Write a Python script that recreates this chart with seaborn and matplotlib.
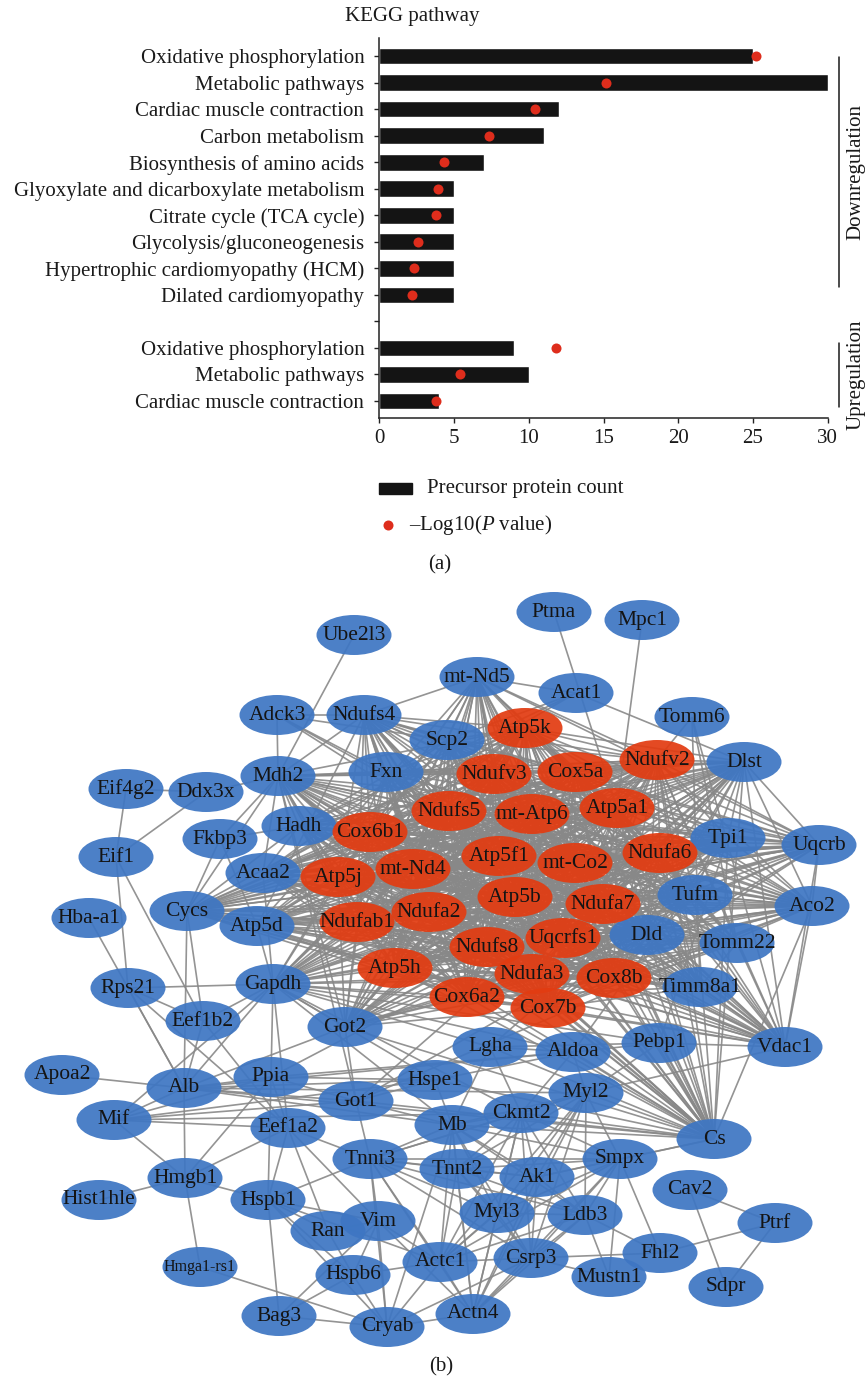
import matplotlib
matplotlib.use("Agg")
import matplotlib.pyplot as plt
import seaborn as sns
import pandas as pd
from itertools import combinations
from matplotlib.patches import Ellipse, Rectangle
from matplotlib.collections import LineCollection
from matplotlib.lines import Line2D

sns.set_theme(style="white")
plt.rcParams["font.family"] = ["Liberation Serif", "DejaVu Serif"]
plt.rcParams["mathtext.fontset"] = "custom"
plt.rcParams["mathtext.rm"] = "Liberation Serif"
plt.rcParams["mathtext.it"] = "Liberation Serif:italic"

# ---------------- (a) KEGG pathway enrichment ----------------
down_pathways = [
    "Oxidative phosphorylation", "Metabolic pathways", "Cardiac muscle contraction",
    "Carbon metabolism", "Biosynthesis of amino acids",
    "Glyoxylate and dicarboxylate metabolism", "Citrate cycle (TCA cycle)",
    "Glycolysis/gluconeogenesis", "Hypertrophic cardiomyopathy (HCM)",
    "Dilated cardiomyopathy",
]
down_counts = [25, 30, 12, 11, 7, 5, 5, 5, 5, 5]
down_logp = [25.2, 15.2, 10.45, 7.35, 4.35, 3.95, 3.8, 2.6, 2.3, 2.2]

up_pathways = ["Oxidative phosphorylation", "Metabolic pathways", "Cardiac muscle contraction"]
up_counts = [9, 10, 4]
up_logp = [11.8, 5.4, 3.8]

x_ticks = [0, 5, 10, 15, 20, 25, 30]

# ---------------- (b) protein interaction network ----------------
down_proteins = {
    "Atp5k": (525, 728), "Ndufv3": (494, 774), "Cox5a": (575, 772), "Ndufv2": (657, 760),
    "Ndufs5": (449, 811), "mt-Atp6": (532, 814), "Atp5a1": (617, 808), "Cox6b1": (370, 832),
    "mt-Nd4": (413, 869), "Atp5f1": (499, 856), "mt-Co2": (575, 863), "Ndufa6": (660, 853),
    "Atp5j": (338, 877), "Atp5b": (515, 897), "Ndufa7": (603, 904), "Ndufab1": (357, 922),
    "Ndufa2": (429, 912), "Ndufs8": (487, 947), "Uqcrfs1": (563, 938), "Atp5h": (395, 968),
    "Ndufa3": (532, 974), "Cox8b": (614, 978), "Cox6a2": (467, 997), "Cox7b": (548, 1008),
}
other_proteins = {
    "Ptma": (554, 612), "Mpc1": (642, 620), "Ube2l3": (354, 635), "mt-Nd5": (477, 677),
    "Acat1": (576, 693), "Tomm6": (692, 717), "Adck3": (277, 715), "Ndufs4": (364, 715),
    "Scp2": (447, 740), "Fxn": (386, 772), "Mdh2": (278, 776), "Dlst": (744, 762),
    "Eif4g2": (126, 789), "Ddx3x": (206, 792), "Fkbp3": (220, 839), "Hadh": (299, 826),
    "Tpi1": (728, 838), "Uqcrb": (819, 845), "Eif1": (116, 857), "Acaa2": (263, 873),
    "Cycs": (187, 911), "Atp5d": (257, 926), "Hba-a1": (89, 918), "Tufm": (695, 895),
    "Aco2": (812, 906), "Dld": (647, 935), "Tomm22": (737, 943), "Rps21": (128, 988),
    "Gapdh": (273, 984), "Timm8a1": (700, 987), "Eef1b2": (203, 1021), "Got2": (345, 1027),
    "Lgha": (490, 1047), "Aldoa": (573, 1052), "Pebp1": (659, 1043), "Vdac1": (785, 1047),
    "Apoa2": (62, 1075), "Alb": (184, 1088), "Ppia": (271, 1077), "Hspe1": (435, 1080),
    "Got1": (356, 1101), "Myl2": (586, 1093), "Mif": (114, 1120), "Eef1a2": (288, 1128),
    "Mb": (452, 1125), "Ckmt2": (521, 1113), "Cs": (714, 1139), "Tnni3": (370, 1159),
    "Tnnt2": (457, 1169), "Ak1": (537, 1177), "Smpx": (620, 1159), "Hmgb1": (185, 1178),
    "Hist1hle": (99, 1200), "Hspb1": (268, 1200), "Cav2": (690, 1190), "Ran": (328, 1231),
    "Vim": (378, 1221), "Myl3": (497, 1213), "Ldb3": (585, 1215), "Ptrf": (775, 1223),
    "Hmga1-rs1": (200, 1267), "Fhl2": (660, 1253), "Hspb6": (353, 1275), "Actc1": (440, 1262),
    "Csrp3": (531, 1258), "Mustn1": (609, 1277), "Sdpr": (726, 1287), "Bag3": (279, 1316),
    "Cryab": (387, 1327), "Actn4": (473, 1314),
}

# groups whose members are all mutually linked
complexes = [
    list(down_proteins) + ["Ndufs4", "mt-Nd5", "Uqcrb", "Atp5d"],
    ["Mdh2", "Dlst", "Aco2", "Cs", "Dld", "Got2", "Got1"],
    ["Gapdh", "Tpi1", "Aldoa", "Lgha", "Pebp1"],
    ["Hadh", "Acaa2", "Acat1", "Scp2"],
    ["Tomm6", "Tomm22", "Timm8a1", "Vdac1"],
    ["Tnni3", "Tnnt2", "Myl2", "Myl3", "Actc1", "Actn4", "Csrp3", "Ldb3",
     "Smpx", "Mb", "Ckmt2", "Ak1"],
    ["Hspb1", "Hspb6", "Cryab", "Bag3", "Vim"],
    ["Cav2", "Ptrf", "Sdpr"],
]
# proteins linked to every down-regulated respiratory-chain subunit
chain_partners = ["Scp2", "Fxn", "Mdh2", "Hadh", "Acaa2", "Cycs", "Dlst", "Tpi1",
                  "Tufm", "Dld", "Tomm22", "Aco2", "Vdac1", "Cs", "Gapdh", "Got2",
                  "Timm8a1"]
extra_links = [
    ("Ube2l3", "Mdh2"), ("Adck3", "Ndufs4"), ("Adck3", "Mdh2"), ("Adck3", "Fxn"),
    ("Adck3", "Scp2"), ("Adck3", "Atp5f1"), ("Adck3", "Ndufs5"),
    ("Eif4g2", "Ddx3x"), ("Eif4g2", "Eif1"), ("Ddx3x", "Mdh2"), ("Ddx3x", "Eif1"),
    ("Eif1", "Rps21"), ("Eif1", "Eef1b2"), ("Hba-a1", "Alb"),
    ("Fkbp3", "Cycs"), ("Fkbp3", "Hadh"), ("Fkbp3", "Mdh2"), ("Fkbp3", "Atp5d"),
    ("Ptma", "Atp5a1"), ("Mpc1", "Atp5a1"), ("Acat1", "Dlst"), ("Tomm6", "Ndufv2"),
    ("Ndufs4", "Mdh2"), ("Ndufs4", "Fxn"), ("Ndufs4", "Scp2"), ("mt-Nd5", "Scp2"),
    ("mt-Nd5", "Acat1"), ("Mdh2", "Hadh"), ("Mdh2", "Acaa2"), ("Mdh2", "Cycs"),
    ("Cycs", "Atp5d"), ("Cycs", "Alb"), ("Cycs", "Eef1b2"), ("Cycs", "Hadh"),
    ("Rps21", "Gapdh"), ("Rps21", "Alb"), ("Rps21", "Eef1b2"), ("Rps21", "Eef1a2"),
    ("Eef1b2", "Eef1a2"), ("Eef1b2", "Gapdh"), ("Eef1b2", "Alb"), ("Apoa2", "Alb"),
    ("Alb", "Mif"), ("Alb", "Hmgb1"), ("Alb", "Ppia"), ("Alb", "Got1"), ("Alb", "Gapdh"),
    ("Alb", "Cs"), ("Alb", "Hspe1"), ("Alb", "Got2"), ("Alb", "Mb"), ("Alb", "Aldoa"),
    ("Alb", "Myl2"), ("Mif", "Hmgb1"), ("Mif", "Ppia"), ("Mif", "Got1"), ("Mif", "Gapdh"),
    ("Mif", "Hspe1"), ("Mif", "Eef1a2"), ("Mif", "Ckmt2"),
    ("Hmgb1", "Hist1hle"), ("Hmgb1", "Hspb1"), ("Hmgb1", "Hmga1-rs1"), ("Hmgb1", "Ppia"),
    ("Hmgb1", "Eef1a2"), ("Hmga1-rs1", "Cryab"),
    ("Ppia", "Gapdh"), ("Ppia", "Hspe1"), ("Ppia", "Got1"), ("Ppia", "Eef1a2"),
    ("Ppia", "Hspb1"), ("Ppia", "Aldoa"), ("Ppia", "Tpi1"),
    ("Eef1a2", "Hspb1"), ("Eef1a2", "Vim"), ("Eef1a2", "Ran"), ("Eef1a2", "Gapdh"),
    ("Eef1a2", "Tnni3"), ("Ran", "Hspb1"), ("Ran", "Vim"), ("Ran", "Hspb6"),
    ("Vim", "Actc1"), ("Vim", "Actn4"), ("Vim", "Tnni3"), ("Hspb1", "Tnni3"),
    ("Hspb1", "Actc1"), ("Cryab", "Actc1"), ("Cryab", "Actn4"), ("Cryab", "Csrp3"),
    ("Cryab", "Tnni3"), ("Cryab", "Mb"), ("Hspb6", "Actc1"),
    ("Hspe1", "Gapdh"), ("Hspe1", "Got1"), ("Hspe1", "Mb"), ("Hspe1", "Cs"),
    ("Hspe1", "Aldoa"), ("Got1", "Mb"), ("Got1", "Tnni3"),
    ("Gapdh", "Got2"), ("Gapdh", "Ckmt2"), ("Gapdh", "Mb"), ("Gapdh", "Atp5d"),
    ("Gapdh", "Acaa2"), ("Ckmt2", "Cs"), ("Mb", "Cs"), ("Myl2", "Cs"), ("Ak1", "Cs"),
    ("Ckmt2", "Aldoa"), ("Ckmt2", "Lgha"), ("Mb", "Lgha"),
    ("Cs", "Pebp1"), ("Cs", "Aldoa"), ("Cs", "Lgha"), ("Cs", "Tpi1"), ("Cs", "Tufm"),
    ("Vdac1", "Aco2"), ("Vdac1", "Pebp1"), ("Vdac1", "Myl2"), ("Vdac1", "Uqcrb"),
    ("Vdac1", "Dld"), ("Vdac1", "Dlst"), ("Dlst", "Tpi1"), ("Dlst", "Uqcrb"),
    ("Dlst", "Tufm"), ("Tpi1", "Uqcrb"), ("Aco2", "Uqcrb"), ("Aco2", "Tufm"),
    ("Aco2", "Tpi1"), ("Pebp1", "Myl2"), ("Myl2", "Aldoa"),
    ("Smpx", "Mustn1"), ("Fhl2", "Ldb3"), ("Fhl2", "Csrp3"), ("Fhl2", "Ptrf"),
    ("Mustn1", "Csrp3"), ("Mustn1", "Ldb3"), ("Fhl2", "Smpx"), ("Smpx", "Cs"),
]

RED = "#e23c12"
BLUE = "#3e76c3"
BAR = "#141414"
DOT = "#de2d1c"
INK = "#1a1a1a"

W, H = 867, 1382
fig = plt.figure(figsize=(W / 100, H / 100), dpi=100)

# pixel-coordinate canvas for annotations and the network
canvas = fig.add_axes([0, 0, 1, 1])
canvas.set_xlim(0, W)
canvas.set_ylim(H, 0)
canvas.axis("off")

# bar chart axes
left_px, right_px, top_px, bottom_px = 379.3, 827.7, 37.7, 418.0
ax = fig.add_axes([left_px / W, 1 - bottom_px / H,
                   (right_px - left_px) / W, (bottom_px - top_px) / H])

labels = down_pathways + [""] + up_pathways
pos = list(range(len(down_pathways))) + list(range(len(down_pathways) + 1, len(labels)))
df = pd.DataFrame({
    "pathway": down_pathways + up_pathways,
    "count": down_counts + up_counts,
    "logp": down_logp + up_logp,
    "pos": pos,
})
sns.barplot(data=df, x="count", y="pos", orient="h", native_scale=True,
            width=0.63, color=BAR, saturation=1, errorbar=None, ax=ax)
sns.scatterplot(data=df, x="logp", y="pos", color=DOT, s=52, linewidth=0,
                ax=ax, zorder=4, legend=False, clip_on=False)

ax.set_xlim(0, 30)
ax.set_ylim(len(labels) - 1 + 0.64, -0.69)
ax.set_yticks(range(len(labels)))
ax.set_yticklabels(labels, fontsize=15, color=INK)
ax.set_xticks(x_ticks)
ax.set_xticklabels([str(t) for t in x_ticks], fontsize=15, color=INK)
ax.set_xlabel("")
ax.set_ylabel("")
ax.tick_params(left=True, bottom=True, direction="out", length=3.6, width=1,
               color="#222222")
ax.tick_params(axis="y", pad=7.2)
ax.tick_params(axis="x", pad=4.5)
for side in ("top", "right"):
    ax.spines[side].set_visible(False)
for side in ("left", "bottom"):
    ax.spines[side].set_color("#222222")
    ax.spines[side].set_linewidth(1.1)
ax.set_facecolor("none")

canvas.text(412, 16, "KEGG pathway", fontsize=15, ha="center", va="center", color=INK)

# regulation brackets
canvas.add_line(Line2D([839, 839], [57, 287], color=INK, lw=1.1))
canvas.add_line(Line2D([839, 839], [343, 407], color=INK, lw=1.1))
canvas.text(856, 172, "Downregulation", rotation=90, fontsize=15,
            ha="center", va="center", color=INK)
canvas.text(856, 375, "Upregulation", rotation=90, fontsize=15,
            ha="center", va="center", color=INK)

# legend
canvas.add_patch(Rectangle((379, 482.5), 33, 11, color=BAR))
canvas.text(427, 488, "Precursor protein count", fontsize=15, ha="left",
            va="center", color=INK)
canvas.scatter([388], [525], s=52, color=DOT, linewidths=0)
canvas.text(409, 525, r"–Log10($\mathit{P}$ value)", fontsize=15, ha="left",
            va="center", color=INK)
canvas.text(440, 565, "(a)", fontsize=15, ha="center", va="center", color=INK)

# ---------------- network ----------------
nodes = {**other_proteins, **down_proteins}
edges = set()
for grp in complexes:
    for a, b in combinations(grp, 2):
        edges.add(tuple(sorted((a, b))))
for p in chain_partners:
    for r in down_proteins:
        edges.add(tuple(sorted((p, r))))
for a, b in extra_links:
    edges.add(tuple(sorted((a, b))))

segs = [[nodes[a], nodes[b]] for a, b in sorted(edges)]
canvas.add_collection(LineCollection(segs, colors="#888888", linewidths=1.2,
                                     alpha=0.9, zorder=1))

for name, (x, y) in nodes.items():
    col = RED if name in down_proteins else BLUE
    canvas.add_patch(Ellipse((x, y), 75, 40, facecolor=col, edgecolor="none",
                             alpha=0.93, zorder=2))
    fs = 11.5 if name == "Hmga1-rs1" else 15.5
    canvas.text(x, y, name, fontsize=fs, ha="center", va="center",
                color="#141414", zorder=3)

canvas.text(441, 1367, "(b)", fontsize=15, ha="center", va="center", color=INK)

fig.savefig("out.png", dpi=100)
